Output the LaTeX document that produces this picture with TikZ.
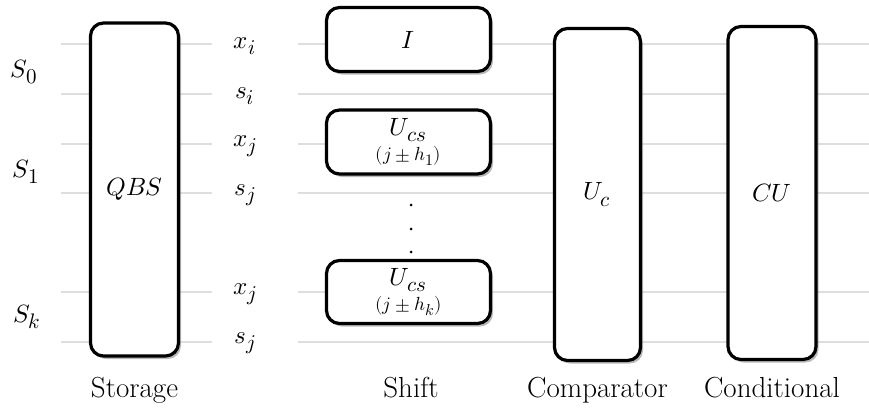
\documentclass[tikz,border=0pt]{standalone}
\usepackage{amsmath, amssymb}
\usepackage{graphicx}
\usepackage{fontspec}
\usepackage{unicode-math}
\setmathfont{Latin Modern Math}
\usepackage{tikz}
\usetikzlibrary{positioning, shadows}
% larger subscripts, as in the source figure
\newcommand{\lsub}[1]{_{\scalebox{1.2}{$\scriptstyle #1$}}}

\begin{document}
\begin{tikzpicture}[
    x=1pt, y=-1pt,
    wire/.style={draw=black!13, line width=1.5pt},
    gate/.style={rectangle, draw, line width=3.2pt, rounded corners=13pt, fill=white, inner sep=0pt,
        drop shadow={shadow xshift=2.5pt, shadow yshift=-3pt, opacity=0.45, fill=black!60}},
    tall/.style={gate, minimum width=88pt, minimum height=333pt},
    wide/.style={gate, minimum width=164pt, minimum height=64pt, align=center},
    lbl/.style={font=\fontsize{25}{28}\selectfont},
    caption/.style={font=\fontsize{29}{34}\selectfont, anchor=base},
    dot/.style={circle, fill, inner sep=0pt, minimum size=3pt}
]
    \useasboundingbox (0,0) rectangle (869,407);

    % Wires (behind the boxes)
    \foreach \r/\yy in {0/44, 1/94, 2/144, 3/193, 4/292, 5/342} {
        \coordinate (wl\r) at (61,\yy);
        \coordinate (wm\r) at (212,\yy);
        \coordinate (wr\r) at (298,\yy);
        \coordinate (we\r) at (869,\yy);
        \draw[wire] (wl\r) -- (wm\r);
        \draw[wire] (wr\r) -- (we\r);
    }

    % Register labels
    \node[lbl] (s0) at (24,72) {$S\lsub{0}$};
    \node[lbl] (s1) at (26,172) {$S\lsub{1}$};
    \node[lbl] (sk) at (27,317) {$S\lsub{k}$};

    % Qubit labels
    \node[lbl] (xi) at (245,46) {$x\lsub{i}$};
    \node[lbl] (si) at (245,96) {$s\lsub{i}$};
    \node[lbl] (xj1) at (245,146) {$x\lsub{j}$};
    \node[lbl] (sj1) at (245,195) {$s\lsub{j}$};
    \node[lbl] (xjk) at (245,294) {$x\lsub{j}$};
    \node[lbl] (sjk) at (245,343) {$s\lsub{j}$};

    % Storage
    \node[tall, lbl] (qbs) at (134.5,189.5) {$QBS$};

    % Shift
    \node[wide, lbl] (ident) at (408.5,39.5) {$I$};
    \node[wide, lbl] (ucs1) at (408.5,142) {$U\lsub{cs}$\\[-3pt]{\fontsize{19}{21}\selectfont$(j\pm h\lsub{1})$}};
    \node[dot] (d1) at (411,205) {};
    \node[dot] (d2) at (411,229) {};
    \node[dot] (d3) at (411,252) {};
    \node[wide, lbl, minimum height=63pt] (ucsk) at (408.5,292) {$U\lsub{cs}$\\[-3pt]{\fontsize{19}{21}\selectfont$(j\pm h\lsub{k})$}};

    % Comparator and conditional
    \node[tall, lbl, minimum width=86pt, minimum height=332pt] (uc) at (597.5,194.5) {$U\lsub{c}$};
    \node[tall, lbl] (cu) at (772,193) {$CU$};

    % Captions
    \node[caption] (capstore) at (134.5,397) {Storage};
    \node[caption] (capshift) at (411,397) {Shift};
    \node[caption] (capcomp) at (597.5,397) {Comparator};
    \node[caption] (capcond) at (772,397) {Conditional};
\end{tikzpicture}
\end{document}
